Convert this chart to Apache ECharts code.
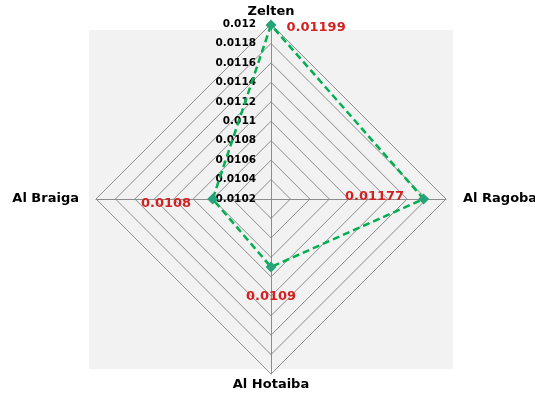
<!DOCTYPE html>
<html>
<head>
<meta charset="utf-8">
<script src="https://cdn.jsdelivr.net/npm/echarts@6/dist/echarts.min.js"></script>
<style>html,body{margin:0;padding:0;background:#fff}#c{width:535px;height:395px}</style>
</head>
<body>
<div id="c"></div>
<script>
// Indicators in ECharts order (counter-clockwise from top)
var categories = ['Zelten', 'Al Braiga', 'Al Hotaiba', 'Al Ragoba'];
var values = [0.01199, 0.0108, 0.0109, 0.01177];
var valueLabels = ['0.01199', '0.0108', '0.0109', '0.01177'];
var axisMin = 0.0102;
var axisMax = 0.012;
var tickLabels = ['0.0102', '0.0104', '0.0106', '0.0108', '0.011', '0.0112', '0.0114', '0.0116', '0.0118', '0.012'];

var labelPos = [
  {position: 'right', distance: 10, offset: [0, 3]},
  {position: 'left', distance: 16, offset: [0, 5]},
  {position: 'bottom', distance: 18, offset: [0, 0]},
  {position: 'left', distance: 14, offset: [0, -2]}
];

var chart = echarts.init(document.getElementById('c'), null, {renderer: 'canvas'});

var indicator = categories.map(function (n, i) {
  var o = {name: n, min: axisMin, max: axisMax};
  if (i === 0) {
    o.axisLabel = {
      show: true,
      color: '#000',
      fontFamily: 'DejaVu Sans',
      fontWeight: 'bold',
      fontSize: 10.5,
      margin: 15,
      formatter: function (v) {
        var k = Math.round((v - axisMin) / 0.0002);
        return tickLabels[k] || '';
      }
    };
  }
  return o;
});

var series = [{
  type: 'radar',
  z: 5,
  symbol: 'diamond',
  symbolSize: 11,
  lineStyle: {color: '#00b050', width: 2.5, type: [7, 4]},
  itemStyle: {color: '#27a37a'},
  data: [{value: values}]
}];

values.forEach(function (v, i) {
  var arr = values.map(function (x, j) { return j === i ? x : '-'; });
  series.push({
    type: 'radar',
    z: 6,
    symbol: 'circle',
    symbolSize: 11,
    silent: true,
    lineStyle: {width: 0, opacity: 0},
    itemStyle: {color: 'rgba(0,0,0,0)'},
    label: {
      show: true,
      position: labelPos[i].position,
      distance: labelPos[i].distance,
      offset: labelPos[i].offset,
      color: '#d42020',
      fontFamily: 'DejaVu Sans',
      fontWeight: 'bold',
      fontSize: 13,
      formatter: function (p) {
        return typeof p.value === 'number' && !isNaN(p.value) ? valueLabels[i] : '';
      }
    },
    data: [{value: arr}]
  });
});

chart.setOption({
  animation: false,
  graphic: [{
    type: 'rect',
    z: -100,
    silent: true,
    shape: {x: 89, y: 30, width: 364, height: 339},
    style: {fill: '#f2f2f2'}
  }],
  radar: {
    center: [271, 199],
    radius: 175,
    startAngle: 90,
    shape: 'polygon',
    splitNumber: 9,
    nameGap: 4,
    axisName: {
      color: '#000',
      fontFamily: 'DejaVu Sans',
      fontWeight: 'bold',
      fontSize: 13,
      formatter: function (name) {
        if (name === 'Al Ragoba') return '{r|' + name + '}';
        if (name === 'Al Braiga') return '{l|' + name + '}';
        return name;
      },
      rich: {
        r: {padding: [0, 0, 0, 13], color: '#000', fontFamily: 'DejaVu Sans', fontWeight: 'bold', fontSize: 13},
        l: {padding: [0, 13, 0, 0], color: '#000', fontFamily: 'DejaVu Sans', fontWeight: 'bold', fontSize: 13}
      }
    },
    axisLine: {lineStyle: {color: '#8c8c8c', width: 1}},
    splitLine: {lineStyle: {color: '#8c8c8c', width: 1}},
    splitArea: {show: false},
    axisTick: {show: false},
    axisLabel: {show: false},
    indicator: indicator
  },
  series: series
});
</script>
</body>
</html>
